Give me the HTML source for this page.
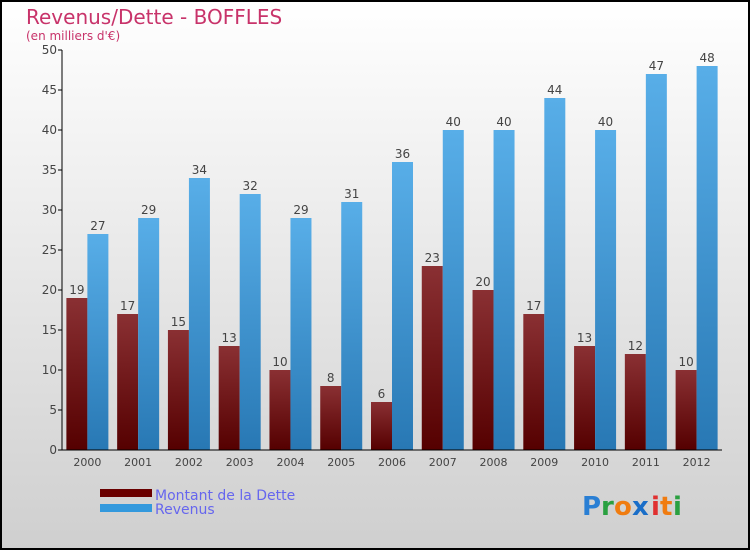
<!DOCTYPE html>
<html><head><meta charset="utf-8"><style>
body{margin:0}
svg{display:block;font-family:"DejaVu Sans","Liberation Sans",sans-serif}
</style></head><body>
<svg width="750" height="550" viewBox="0 0 750 550" xmlns="http://www.w3.org/2000/svg">
<defs>
<linearGradient id="bg" x1="0" y1="0" x2="0" y2="1"><stop offset="0" stop-color="#ffffff"/><stop offset="1" stop-color="#cfcfcf"/></linearGradient>
<linearGradient id="gd" x1="0" y1="0" x2="0" y2="1"><stop offset="0" stop-color="#8a3033"/><stop offset="1" stop-color="#550000"/></linearGradient>
<linearGradient id="gr" x1="0" y1="0" x2="0" y2="1"><stop offset="0" stop-color="#58aee8"/><stop offset="1" stop-color="#2878b4"/></linearGradient>
</defs>
<rect x="1" y="1" width="748" height="548" fill="url(#bg)" stroke="#000" stroke-width="2"/>
<text x="26" y="24" font-size="20" fill="#c8336a">Revenus/Dette - BOFFLES</text>
<text x="26" y="40" font-size="12" fill="#c8336a">(en milliers d'€)</text>
<g id="plot"></g>
<g>
<rect x="100" y="489" width="52" height="8" fill="#6a0000"/>
<text x="155" y="500" font-size="14" fill="#6666ee">Montant de la Dette</text>
<rect x="100" y="504" width="52" height="8" fill="#3399dd"/>
<text x="155" y="514" font-size="14" fill="#6666ee">Revenus</text>
</g>
<g font-size="26" font-weight="bold">
<text x="582" y="515" fill="#2a7fd4">P</text><text x="601" y="515" fill="#2aa040">r</text><text x="614" y="515" fill="#f07c10">o</text><text x="632" y="515" fill="#1a6ec8">x</text><text x="651" y="515" fill="#e03030">i</text><text x="660" y="515" fill="#f07c10">t</text><text x="673" y="515" fill="#2aa040">i</text>
</g>
</svg>
<script>
const years=["2000","2001","2002","2003","2004","2005","2006","2007","2008","2009","2010","2011","2012"];
const debt=[19,17,15,13,10,8,6,23,20,17,13,12,10];
const revenue=[27,29,34,32,29,31,36,40,40,44,40,47,48];
const yTicks=[0,5,10,15,20,25,30,35,40,45,50];
const NS="http://www.w3.org/2000/svg";
const g=document.getElementById('plot');
const x0=62,x1=722,yBase=450,yTop=50,yMax=50;
const step=(x1-x0)/years.length;
const y=v=>yBase-(yBase-yTop)*v/yMax;
const cx=i=>x0+step*(i+0.5);
function mk(t,a){const e=document.createElementNS(NS,t);for(const k in a)e.setAttribute(k,a[k]);g.appendChild(e);return e;}
years.forEach((yr,i)=>{
  const c=cx(i);
  let r=mk('rect',{x:c-21,y:y(debt[i]),width:21,height:yBase-y(debt[i]),fill:'url(#gd)'});
  
  
  r=mk('rect',{x:c,y:y(revenue[i]),width:21,height:yBase-y(revenue[i]),fill:'url(#gr)'});
  
  
  let t=mk('text',{x:c-10.5,y:y(debt[i])-4,'font-size':12,fill:'#444','text-anchor':'middle'});t.textContent=debt[i];
  
  
  t=mk('text',{x:c+10.5,y:y(revenue[i])-4,'font-size':12,fill:'#444','text-anchor':'middle'});t.textContent=revenue[i];
  
  
  t=mk('text',{x:c,y:466,'font-size':11,fill:'#444','text-anchor':'middle'});t.textContent=yr;
  
  
});
yTicks.forEach(v=>{
  const l=mk('line',{x1:x0-4,x2:x0,y1:y(v),y2:y(v),stroke:'#000'});
  
  
  const t=mk('text',{x:x0-5,y:y(v)+4,'font-size':12,fill:'#444','text-anchor':'end'});t.textContent=v;
  
  
});
let a=mk('line',{x1:x0,x2:x0,y1:yTop,y2:yBase,stroke:'#000'});


a=mk('line',{x1:x0,x2:x1,y1:yBase,y2:yBase,stroke:'#000'});


</script>
</body></html>
